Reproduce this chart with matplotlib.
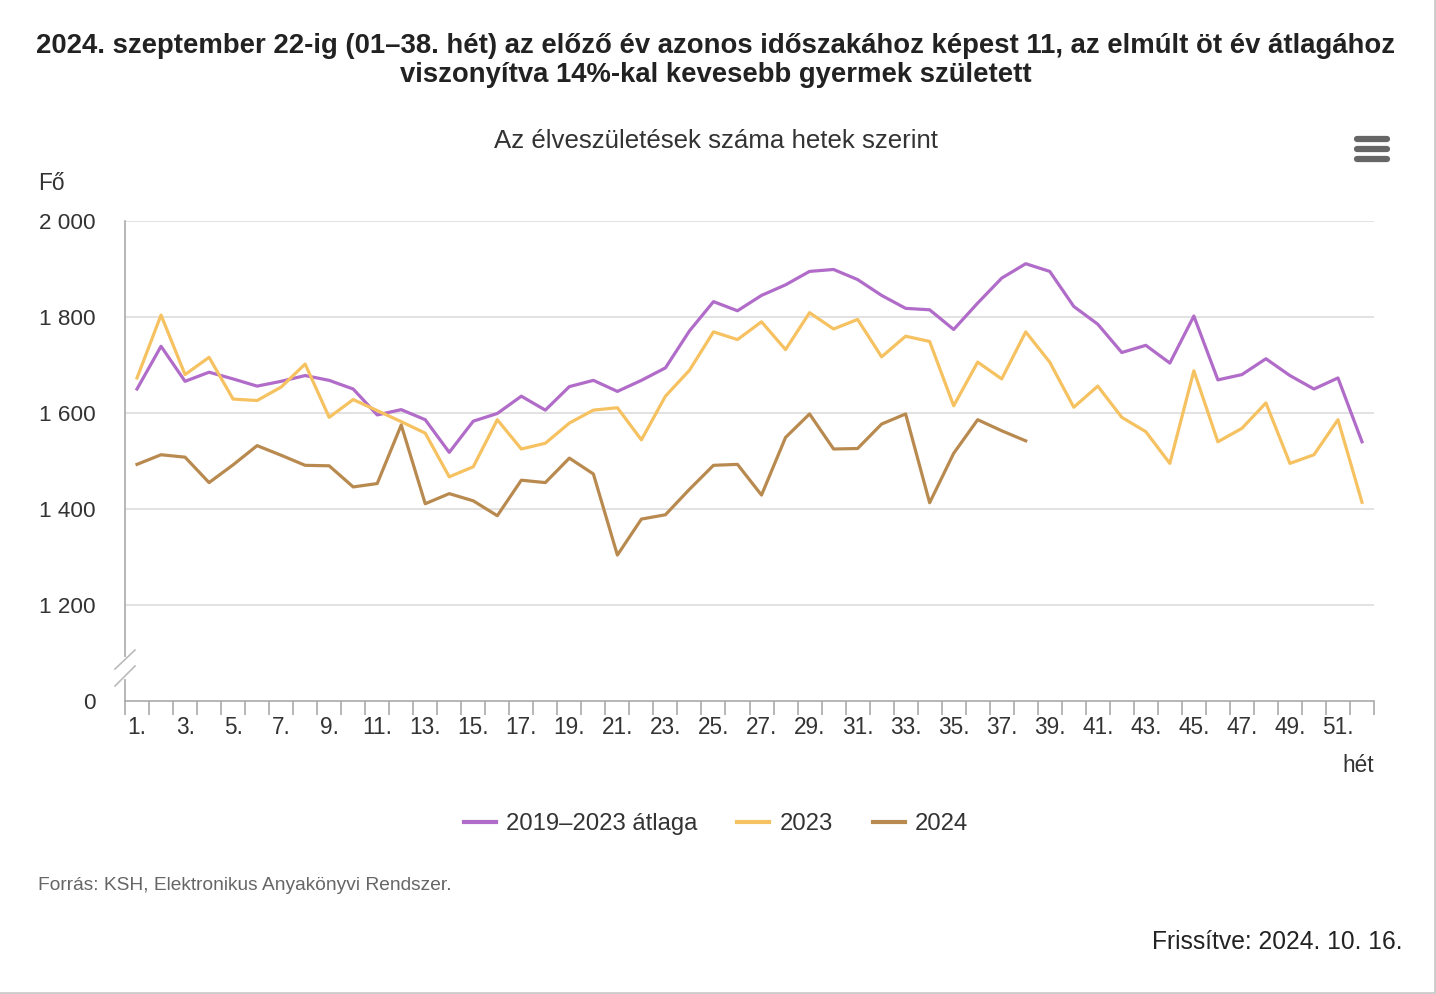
import numpy as np
import matplotlib
matplotlib.use("Agg")
from matplotlib import pyplot as plt
from matplotlib.lines import Line2D

plt.rcParams['font.family'] = ['Liberation Sans', 'DejaVu Sans']

weeks = list(range(1, 53))
avg_2019_2023 = [1650, 1739, 1666, 1685, 1671, 1656, 1666, 1678, 1668, 1650,
                 1596, 1607, 1586, 1518, 1583, 1599, 1635, 1606, 1655, 1668,
                 1645, 1668, 1694, 1771, 1832, 1813, 1845, 1867, 1895, 1899,
                 1878, 1845, 1818, 1815, 1774, 1829, 1881, 1911, 1895, 1822,
                 1785, 1726, 1741, 1704, 1802, 1669, 1680, 1713, 1678, 1650,
                 1673, 1540]
y2023 = [1673, 1804, 1680, 1716, 1629, 1626, 1654, 1702, 1591, 1628,
         1605, 1582, 1558, 1467, 1488, 1586, 1525, 1537, 1579, 1606,
         1611, 1544, 1635, 1689, 1769, 1753, 1790, 1732, 1809, 1775,
         1795, 1717, 1760, 1749, 1615, 1706, 1671, 1769, 1706, 1612,
         1656, 1591, 1561, 1495, 1688, 1540, 1568, 1621, 1495, 1513,
         1586, 1414]
y2024 = [1493, 1513, 1508, 1455, 1492, 1532, 1512, 1491, 1490, 1446,
         1453, 1575, 1411, 1432, 1417, 1386, 1460, 1455, 1506, 1473,
         1304, 1379, 1388, 1441, 1491, 1493, 1429, 1549, 1598, 1525,
         1526, 1577, 1598, 1413, 1516, 1586, 1563, 1542]
series_names = ['2019–2023 átlaga', '2023', '2024']
colors = ['#b06cc8', '#f6c261', '#b98a4f']
y_ticks = [0, 1200, 1400, 1600, 1800, 2000]
y_ticklabels = ['0', '1 200', '1 400', '1 600', '1 800', '2 000']

W, H = 1436, 994
fig = plt.figure(figsize=(W / 100, H / 100), dpi=100)


def fx(px):
    return px / W


def fy(py):
    return 1 - py / H


ax = fig.add_axes([fx(125), fy(701), fx(1374) - fx(125), fy(221) - fy(701)])


# broken axis: 0..1200 squeezed into the space of 200
def fwd(v):
    v = np.asarray(v, dtype=float)
    return np.where(v >= 1200, v, 1000 + v / 6)


def inv(u):
    u = np.asarray(u, dtype=float)
    return np.where(u >= 1200, u, (u - 1000) * 6)


ax.set_yscale('function', functions=(fwd, inv))
ax.set_ylim(0, 2000)
ax.set_xlim(0.5, 52.5)

for v in y_ticks[1:]:
    ax.axhline(v, color='#dddddd', lw=1.2, zorder=0)

ax.plot(weeks, avg_2019_2023, color=colors[0], lw=2.3, label=series_names[0], solid_joinstyle='round')
ax.plot(weeks, y2023, color=colors[1], lw=2.3, label=series_names[1], solid_joinstyle='round')
ax.plot(weeks[:len(y2024)], y2024, color=colors[2], lw=2.3, label=series_names[2], solid_joinstyle='round')

for s in ['top', 'right']:
    ax.spines[s].set_visible(False)
for s in ['left', 'bottom']:
    ax.spines[s].set_color('#aaaaaa')
    ax.spines[s].set_linewidth(1.2)

ax.set_yticks(y_ticks)
ax.set_yticklabels(y_ticklabels)
ax.tick_params(axis='y', length=0, pad=21, labelsize=16.2, labelcolor='#333333')

ax.set_xticks(np.arange(0.5, 53, 1))
ax.set_xticklabels([])
ax.set_xticks(np.arange(1, 53, 2), minor=True)
ax.set_xticklabels([f'{w}.' for w in range(1, 53, 2)], minor=True)
ax.tick_params(axis='x', which='major', length=10, width=1.2, color='#aaaaaa', direction='out')
ax.tick_params(axis='x', which='minor', length=0, pad=11, labelsize=16.3, labelcolor='#333333')

# break marks on the y axis
fig.add_artist(Line2D([fx(125), fx(125)], [fy(659), fy(677)], color='white', lw=3))
fig.add_artist(Line2D([fx(115), fx(135)], [fy(669), fy(650)], color='#bbbbbb', lw=1.2))
fig.add_artist(Line2D([fx(115), fx(135)], [fy(686), fy(666)], color='#bbbbbb', lw=1.2))

fig.text(fx(716), fy(46), '2024. szeptember 22-ig (01–38. hét) az előző év azonos időszakához képest 11, az elmúlt öt év átlagához',
         ha='center', va='center', fontsize=19.8, fontweight='bold', color='#222222')
fig.text(fx(716), fy(75), 'viszonyítva 14%-kal kevesebb gyermek született',
         ha='center', va='center', fontsize=19.8, fontweight='bold', color='#222222')
fig.text(fx(716), fy(141), 'Az élveszületések száma hetek szerint',
         ha='center', va='center', fontsize=18.6, color='#333333')
fig.text(fx(38), fy(184), 'Fő', ha='left', va='center', fontsize=16.3, color='#333333')
fig.text(fx(1374), fy(766), 'hét', ha='right', va='center', fontsize=16.3, color='#333333')

leg = fig.legend(loc='center', bbox_to_anchor=(fx(716), fy(824)), ncol=3, frameon=False,
                 fontsize=17.2, handlelength=1.34, handletextpad=0.42, columnspacing=1.67)
for t in leg.get_texts():
    t.set_color('#333333')
for h in leg.legend_handles:
    h.set_linewidth(3)

fig.text(fx(38), fy(886), 'Forrás: KSH, Elektronikus Anyakönyvi Rendszer.',
         ha='left', va='center', fontsize=13.8, color='#666666')
fig.text(fx(1402), fy(942), 'Frissítve: 2024. 10. 16.',
         ha='right', va='center', fontsize=17.7, color='#222222')

# menu icon
for py in [139, 149, 159]:
    fig.add_artist(Line2D([fx(1357), fx(1387)], [fy(py), fy(py)], color='#666666', lw=4.5,
                          solid_capstyle='round'))

# light frame at right and bottom
fig.add_artist(Line2D([fx(1434.5), fx(1434.5)], [0, 1], color='#cccccc', lw=2))
fig.add_artist(Line2D([0, 1], [fy(992.5), fy(992.5)], color='#cccccc', lw=2))

fig.savefig('out.png', dpi=100)
